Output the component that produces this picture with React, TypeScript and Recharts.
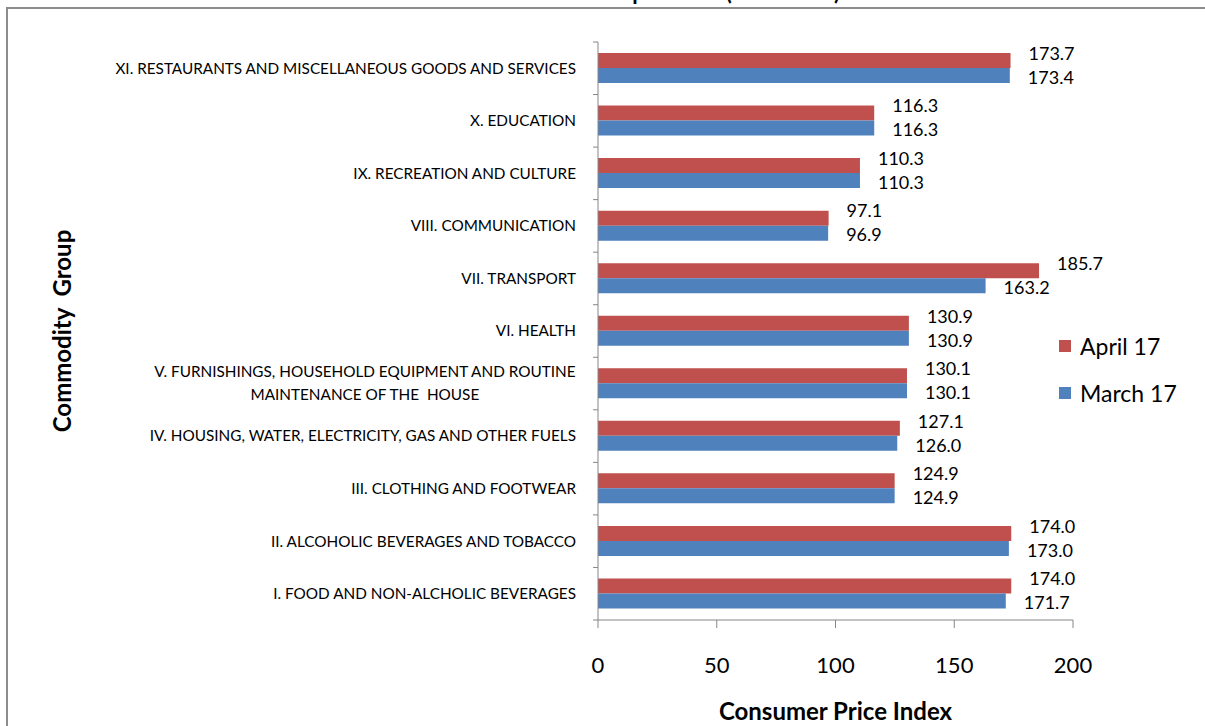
import React from "react";
import { Bar, BarChart, LabelList, Label, XAxis, YAxis } from "recharts";

const categories = [
  "I. FOOD AND NON-ALCHOLIC BEVERAGES",
  "II. ALCOHOLIC BEVERAGES AND TOBACCO",
  "III. CLOTHING AND FOOTWEAR",
  "IV. HOUSING, WATER, ELECTRICITY, GAS AND OTHER FUELS",
  "V. FURNISHINGS, HOUSEHOLD EQUIPMENT AND ROUTINE\nMAINTENANCE OF THE  HOUSE",
  "VI. HEALTH",
  "VII. TRANSPORT",
  "VIII. COMMUNICATION",
  "IX. RECREATION AND CULTURE",
  "X. EDUCATION",
  "XI. RESTAURANTS AND MISCELLANEOUS GOODS AND SERVICES"
];
const april17 = [174.0, 174.0, 124.9, 127.1, 130.1, 130.9, 185.7, 97.1, 110.3, 116.3, 173.7];
const march17 = [171.7, 173.0, 124.9, 126.0, 130.1, 130.9, 163.2, 96.9, 110.3, 116.3, 173.4];
const xTicks = [0, 50, 100, 150, 200];

const data = categories.map((name, i) => ({ name, april: april17[i], march: march17[i] }));

const FONT = "Lato, 'Open Sans', sans-serif";
const RED = "#C0504D";
const BLUE = "#4F81BD";
const AXIS = "#868686";
const CAT_SIZE = 15.3;

const W = 1205;
const H = 726;
const TOP = 42;
const BOTTOM = 106;
const Y_W = 598;
const RIGHT = 132;
const BAND = (H - TOP - BOTTOM) / categories.length;

let ctx: CanvasRenderingContext2D | null = null;
function textWidth(s: string, font: string) {
  if (!ctx) ctx = document.createElement("canvas").getContext("2d");
  if (!ctx) return s.length * 7;
  ctx.font = font;
  return ctx.measureText(s).width;
}

function CategoryTick(props: any) {
  const { x, y, payload, index } = props;
  const lines = String(payload.value).split("\n");
  const right = x - 22;
  const marks = (
    <>
      <line x1={x - 5} x2={x} y1={y - BAND / 2} y2={y - BAND / 2} stroke={AXIS} />
      {index === 0 && <line x1={x - 5} x2={x} y1={y + BAND / 2} y2={y + BAND / 2} stroke={AXIS} />}
    </>
  );
  if (lines.length === 1) {
    return (
      <g>
        {marks}
        <text x={right} y={y} dy="0.35em" textAnchor="end" fontSize={CAT_SIZE} fontFamily={FONT} fill="#000">
          {lines[0]}
        </text>
      </g>
    );
  }
  const w = textWidth(lines[0], `${CAT_SIZE}px ${FONT}`);
  const cx = right - w / 2;
  return (
    <g>
      {marks}
      {lines.map((l, i) => (
        <text
          key={i}
          x={cx}
          y={y + (i - (lines.length - 1) / 2) * 23}
          dy="0.35em"
          textAnchor="middle"
          fontSize={CAT_SIZE}
          fontFamily={FONT}
          fill="#000"
          style={{ whiteSpace: "pre" }}
        >
          {l}
        </text>
      ))}
    </g>
  );
}

function ValueTick(props: any) {
  const { x, y, payload } = props;
  return (
    <text x={x} y={y + 35} dy="0.35em" textAnchor="middle" fontSize={22} fontFamily={FONT} fill="#000">
      {payload.value}
    </text>
  );
}

function valueLabel(shift: number) {
  return (props: any) => {
    const { x, y, width, height, value } = props;
    return (
      <text
        x={x + width + 18}
        y={y + height / 2 + shift}
        dy="0.35em"
        fontSize={18}
        fontFamily={FONT}
        fill="#000"
      >
        {Number(value).toFixed(1)}
      </text>
    );
  };
}

export default function App() {
  return (
    <div style={{ position: "relative", width: W, height: H, overflow: "hidden", background: "#fff" }}>
      <style>{`body{margin:0;overflow:hidden}`}</style>
      <svg width={W} height={10} style={{ position: "absolute", left: 0, top: 0 }}>
        <text x={840} y={0} textAnchor="end" fontSize={22} fontWeight="bold" fontFamily={FONT} fill="#000">
          CPI for March and April 2017 (2006=100)
        </text>
      </svg>
      <div
        style={{
          position: "absolute",
          left: 6,
          top: 7,
          width: W,
          height: H,
          borderTop: "2px solid #8c8c8c",
          borderLeft: "2px solid #8c8c8c"
        }}
      />
      <div style={{ position: "absolute", left: 0, top: 0 }}>
        <BarChart
          width={W}
          height={H}
          data={data}
          layout="vertical"
          margin={{ top: TOP, right: RIGHT, left: 0, bottom: 0 }}
          barSize={15}
          barGap={0}
        >
          <XAxis
            type="number"
            domain={[0, 200]}
            ticks={xTicks}
            height={BOTTOM}
            stroke={AXIS}
            tickSize={8}
            tick={<ValueTick />}
          >
            <Label
              content={(p: any) => (
                <text
                  x={p.viewBox.x + p.viewBox.width / 2}
                  y={712}
                  dy="0.35em"
                  textAnchor="middle"
                  fontSize={24}
                  fontWeight="bold"
                  fontFamily={FONT}
                  fill="#000"
                >
                  Consumer Price Index
                </text>
              )}
            />
          </XAxis>
          <YAxis
            type="category"
            dataKey="name"
            reversed
            width={Y_W}
            stroke={AXIS}
            tickLine={false}
            tickSize={0}
            tickMargin={0}
            interval={0}
            tick={<CategoryTick />}
          >
            <Label
              content={(p: any) => {
                const cy = p.viewBox.y + p.viewBox.height / 2;
                return (
                  <text
                    x={63}
                    y={cy}
                    dy="0.35em"
                    transform={`rotate(-90, 63, ${cy})`}
                    textAnchor="middle"
                    fontSize={24}
                    fontWeight="bold"
                    fontFamily={FONT}
                    fill="#000"
                    style={{ whiteSpace: "pre" }}
                  >
                    Commodity  Group
                  </text>
                );
              }}
            />
          </YAxis>
          <Bar dataKey="april" name="April 17" fill={RED} isAnimationActive={false}>
            <LabelList dataKey="april" content={valueLabel(-7)} />
          </Bar>
          <Bar dataKey="march" name="March 17" fill={BLUE} isAnimationActive={false}>
            <LabelList dataKey="march" content={valueLabel(2)} />
          </Bar>
        </BarChart>
      </div>
      {[
        { label: "April 17", color: RED, top: 346 },
        { label: "March 17", color: BLUE, top: 393 }
      ].map((it) => (
        <div
          key={it.label}
          style={{
            position: "absolute",
            left: 1059,
            top: it.top - 13,
            height: 26,
            display: "flex",
            alignItems: "center",
            fontFamily: FONT,
            fontSize: 23,
            color: "#000"
          }}
        >
          <span style={{ width: 12, height: 12, background: it.color, marginRight: 9 }} />
          {it.label}
        </div>
      ))}
    </div>
  );
}
